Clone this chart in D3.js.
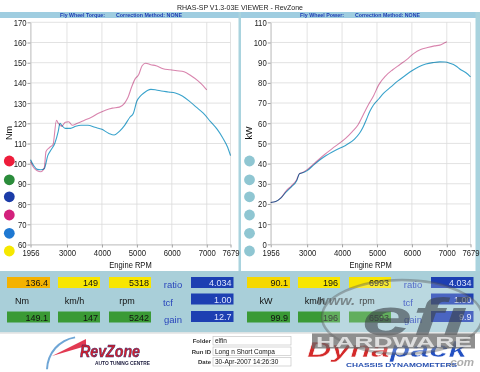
<!DOCTYPE html>
<html>
<head>
<meta charset="utf-8">
<script src="https://cdn.jsdelivr.net/npm/d3@7"></script>
<style>
body { margin: 0; background: #fff; }
svg { display: block; font-family: "Liberation Sans", Arial, sans-serif; }
</style>
</head>
<body>
<svg id="chart" width="480" height="372"></svg>
<script>
// ---- data ----
var rpmTicks = [1956, 3000, 4000, 5000, 6000, 7000, 7679];
var torqueTicks = [60, 70, 80, 90, 100, 110, 120, 130, 140, 150, 160, 170];
var powerTicks = [0, 10, 20, 30, 40, 50, 60, 70, 80, 90, 100, 110];

// run 1 (blue) torque, Nm
var torqueRpmBlue = [1956, 2050, 2150, 2250, 2350, 2450, 2550, 2650, 2750, 2800, 2850, 2950, 3100, 3250, 3400, 3600, 3800, 4000, 4200, 4350, 4500, 4650, 4800, 4900, 5000, 5100, 5200, 5300, 5400, 5550, 5700, 5900, 6100, 6300, 6500, 6700, 6900, 7100, 7300, 7450, 7600, 7679];
var torqueBlue = [102, 99, 97.2, 97, 97.5, 104, 107, 110, 116, 120, 119, 117.5, 117.5, 118.5, 119, 119, 118, 117, 115, 114.2, 116, 119, 123, 125, 131, 133.5, 135, 136.2, 136.8, 136.5, 136, 135.5, 135, 133.5, 131, 128, 125, 121, 117, 113, 108, 104];
// run 2 (pink) torque, Nm
var torqueRpmPink = [1956, 2050, 2150, 2250, 2350, 2400, 2500, 2600, 2700, 2750, 2850, 2950, 3050, 3150, 3300, 3500, 3700, 3900, 4100, 4300, 4500, 4650, 4750, 4850, 4950, 5050, 5150, 5250, 5400, 5550, 5750, 5950, 6150, 6350, 6550, 6750, 6900, 7000];
var torquePink = [101, 98, 96.5, 96, 98, 106, 108, 109.5, 121.5, 120, 118.5, 120.5, 120.8, 119, 120, 121.5, 123, 125, 126.5, 127.5, 128, 130, 133, 138, 142, 144, 148.5, 149.7, 149, 148.5, 147, 146.5, 146, 145.5, 143.5, 141, 138.5, 136.5];

// run 1 (blue) power, kW
var powerRpmBlue = [1956, 2100, 2250, 2400, 2550, 2700, 2780, 2850, 3000, 3200, 3500, 3800, 4100, 4350, 4500, 4600, 4700, 4800, 4900, 5050, 5200, 5400, 5600, 5800, 6000, 6200, 6400, 6600, 6800, 6950, 7100, 7250, 7400, 7550, 7679];
var powerBlue = [20.7, 21.2, 23, 26, 28.5, 31.5, 35, 35.3, 36.5, 39.5, 43.5, 46.5, 49, 52, 55, 58, 62, 66, 69, 72, 75, 78, 81, 83.5, 86, 88, 89.3, 90, 90.4, 90.3, 89.6, 88.5, 86.5, 85, 83];
// run 2 (pink) power, kW
var powerRpmPink = [1956, 2100, 2250, 2400, 2550, 2700, 2780, 2850, 3000, 3200, 3500, 3800, 4100, 4300, 4450, 4600, 4750, 4900, 5050, 5250, 5450, 5650, 5850, 6050, 6250, 6450, 6650, 6800, 6900, 7000];
var powerPink = [20.7, 21.2, 23, 26.5, 29, 32, 35, 35.4, 37, 40, 44.5, 48.5, 52.5, 56, 59, 64, 69, 73.5, 79, 83.5, 86.5, 89, 91.5, 94.5, 96.5, 97.5, 98.3, 98.7, 99.5, 100.4];

var legendColors = ["#ee1d3b", "#2b8c3b", "#1b3ca8", "#d3217c", "#1e78d2", "#f6e800"];

// readout panel
var readoutUnitsTorque = ["Nm", "km/h", "rpm"];
var readoutUnitsPower = ["kW", "km/h", "rpm"];
var torqueTop = ["136.4", "149", "5318"];
var torqueBottom = ["149.1", "147", "5242"];
var powerTop = ["90.1", "196", "6993"];
var powerBottom = ["99.9", "196", "6593"];
var factorLabels = ["ratio", "tcf", "gain"];
var torqueFactors = ["4.034", "1.00", "12.7"];
var powerFactors = ["4.034", "1.00", "9.9"];
var runFields = ["Folder", "Run ID", "Date"];
var runValues = ["elfin", "Long n Short Compa", "30-Apr-2007  14:26:30"];

var svg = d3.select("#chart");
var squeeze = 0.84;

function txt(parent, x, y, s, size, opt) {
  opt = opt || {};
  var t = parent.append("text")
    .attr("transform", "translate(" + x + "," + y + ") scale(" + (opt.sx || 1) + ",1)" + (opt.rot ? " rotate(" + opt.rot + ")" : ""))
    .attr("font-size", size)
    .attr("text-anchor", opt.anchor || "start")
    .attr("fill", opt.fill || "#111")
    .text(s);
  if (opt.weight) t.attr("font-weight", opt.weight);
  if (opt.style) t.attr("font-style", opt.style);
  if (opt.len) t.attr("textLength", opt.len).attr("lengthAdjust", "spacingAndGlyphs");
  return t;
}

// background frame
svg.append("rect").attr("width", 480).attr("height", 372).attr("fill", "#fff");
svg.append("rect").attr("x", 0).attr("y", 12).attr("width", 480).attr("height", 6).attr("fill", "#9fcde0");
svg.append("rect").attr("x", 238.5).attr("y", 12).attr("width", 2.5).attr("height", 260).attr("fill", "#a9d3de");
svg.append("rect").attr("x", 475.5).attr("y", 12).attr("width", 4.5).attr("height", 260).attr("fill", "#a9d3de");

txt(svg, 240, 10, "RHAS-SP V1.3-03E VIEWER - RevZone", 7.2, { anchor: "middle", len: 126, fill: "#222" });
txt(svg, 60, 16.8, "Fly Wheel Torque:", 5.6, { weight: "bold", fill: "#1c3cb4", len: 45 });
txt(svg, 116, 16.8, "Correction Method: NONE", 5.6, { weight: "bold", fill: "#1c3cb4", len: 66 });
txt(svg, 300, 16.8, "Fly Wheel Power:", 5.6, { weight: "bold", fill: "#1c3cb4", len: 44 });
txt(svg, 355, 16.8, "Correction Method: NONE", 5.6, { weight: "bold", fill: "#1c3cb4", len: 65 });

function drawPanel(cfg) {
  var g = svg.append("g");
  var x = d3.scaleLinear().domain([1956, 7679]).range(cfg.xr);
  var y = d3.scaleLinear().domain(cfg.yd).range(cfg.yr);

  // grid
  g.append("g").selectAll("line.h").data(cfg.yt).enter().append("line")
    .attr("x1", x.range()[0]).attr("x2", x.range()[1])
    .attr("y1", function(d) { return y(d); }).attr("y2", function(d) { return y(d); })
    .attr("stroke", "#dadada").attr("stroke-width", 0.8);
  g.append("g").selectAll("line.v").data(rpmTicks).enter().append("line")
    .attr("x1", function(d) { return x(d); }).attr("x2", function(d) { return x(d); })
    .attr("y1", y.range()[1]).attr("y2", y.range()[0])
    .attr("stroke", "#dadada").attr("stroke-width", 0.8);

  // axes
  var ax = g.append("g").attr("transform", "translate(0," + y.range()[0] + ")")
    .call(d3.axisBottom(x).tickValues(rpmTicks).tickSize(3).tickSizeOuter(0).tickPadding(2).tickFormat(d3.format("d")));
  var ay = g.append("g").attr("transform", "translate(" + x.range()[0] + ",0)")
    .call(d3.axisLeft(y).tickValues(cfg.yt).tickSize(3).tickSizeOuter(0).tickPadding(1));
  [ax, ay].forEach(function(a) {
    a.select(".domain").attr("stroke", "#c8c8c8");
    a.selectAll(".tick line").attr("stroke", "#a0a0a0");
    a.selectAll("text").attr("font-size", 9.2).attr("font-family", "Liberation Sans, Arial, sans-serif").attr("fill", "#1a1a1a");
  });
  ax.selectAll("text").attr("transform", "scale(" + squeeze + ",1)");
  ay.selectAll("text").attr("transform", "scale(" + squeeze + ",1)").attr("x", -4 / squeeze);

  txt(g, (x.range()[0] + x.range()[1]) / 2, 268, "Engine RPM", 9, { anchor: "middle", sx: squeeze });
  txt(g, cfg.xr[0] - 18.5, 133, cfg.unit, 9, { anchor: "middle", rot: -90, sx: 1 });

  // legend dots
  g.append("g").selectAll("circle").data(cfg.dots).enter().append("circle")
    .attr("cx", cfg.xr[0] - 21.2)
    .attr("cy", function(d, i) { return [161, 179.8, 196.8, 215, 233.3, 251][i]; })
    .attr("r", 5.4)
    .attr("fill", function(d) { return d; });

  // curves
  var line = d3.line().x(function(d) { return x(d[0]); }).y(function(d) { return y(d[1]); }).curve(d3.curveMonotoneX);
  cfg.series.forEach(function(s) {
    g.append("path")
      .datum(d3.zip(s.rpm, s.val))
      .attr("d", line)
      .attr("fill", "none")
      .attr("stroke", s.color)
      .attr("stroke-width", 1.1)
      .style("mix-blend-mode", "multiply");
  });
}

drawPanel({
  xr: [30.5, 230.5], yd: [60, 170], yr: [244.5, 22.3], yt: torqueTicks, unit: "Nm",
  dots: legendColors,
  series: [
    { rpm: torqueRpmPink, val: torquePink, color: "#d985ae" },
    { rpm: torqueRpmBlue, val: torqueBlue, color: "#3aa3cc" }
  ]
});
drawPanel({
  xr: [270.7, 470.5], yd: [0, 110], yr: [244.3, 22.3], yt: powerTicks, unit: "kW",
  dots: legendColors.map(function() { return "#8fc6d2"; }),
  series: [
    { rpm: powerRpmPink, val: powerPink, color: "#d985ae" },
    { rpm: powerRpmBlue, val: powerBlue, color: "#3aa3cc" }
  ]
});

// ---- readout panel ----
svg.append("rect").attr("x", 0).attr("y", 271).attr("width", 480).attr("height", 61.5).attr("fill", "#a9cfd9");

function readouts(ox, top, bottom, units, factors, firstColor) {
  var g = svg.append("g").attr("transform", "translate(" + ox + ",0)");
  var bx = [7, 58, 109];
  var bw = [43, 42, 42];
  bx.forEach(function(b, i) {
    g.append("rect").attr("x", b).attr("y", 277).attr("width", bw[i]).attr("height", 11)
      .attr("fill", i === 0 ? firstColor : "#f8e600");
    txt(g, b + bw[i] - 2, 286.3, top[i], 9.5, { anchor: "end", sx: 0.95 });
    g.append("rect").attr("x", b).attr("y", 311.5).attr("width", bw[i]).attr("height", 11).attr("fill", "#3a9a35");
    txt(g, b + bw[i] - 2, 320.8, bottom[i], 9.5, { anchor: "end", sx: 0.95 });
    txt(g, [22, 74.5, 127][i] + (ox > 0 && i === 0 ? 4 : 0), 304, units[i], 9.5, { anchor: "middle", sx: 0.95 });
  });
  var fy = [288, 305.5, 322.5];
  factorLabels.forEach(function(f, i) {
    txt(g, i === 1 ? 168 : 173, fy[i], f, 9.5, { anchor: "middle", fill: "#2a46bc" });
    g.append("rect").attr("x", 191).attr("y", [277, 293.5, 311][i]).attr("width", 42.5).attr("height", 11).attr("fill", "#1d3fb2");
    txt(g, 231.5, [286.3, 302.8, 320.3][i], factors[i], 9.5, { anchor: "end", fill: "#dfe6ff", sx: 0.95 });
  });
}
readouts(0, torqueTop, torqueBottom, readoutUnitsTorque, torqueFactors, "#f4b200");
readouts(240, powerTop, powerBottom, readoutUnitsPower, powerFactors, "#f5d800");

// ---- footer ----
svg.append("rect").attr("x", 0).attr("y", 332.5).attr("width", 480).attr("height", 39.5).attr("fill", "#fff");
svg.append("line").attr("x1", 0).attr("x2", 480).attr("y1", 333).attr("y2", 333).attr("stroke", "#c9c9c9").attr("stroke-width", 0.8);

// RevZone logo
var logo = svg.append("g");
logo.append("path")
  .attr("transform", "translate(80,370)")
  .attr("d", d3.arc().innerRadius(32).outerRadius(34).startAngle(-1.55).endAngle(-0.15)())
  .attr("fill", "#6fa6d6");
logo.append("path").attr("d", "M52,356 L86,339 L86,346 Z").attr("fill", "#e23a52");
txt(logo, 80, 356.5, "RevZone", 17, { weight: "bold", style: "italic", fill: "#d81f2a", len: 60 })
  .attr("stroke", "#2a2a70").attr("stroke-width", 0.5);
txt(logo, 95, 364.5, "AUTO TUNING CENTRE", 5.5, { weight: "bold", fill: "#1a1a3c", len: 55 });

// run info
runFields.forEach(function(f, i) {
  var yy = 336.5 + i * 10.5;
  txt(svg, 211, yy + 6.5, f, 6, { anchor: "end", weight: "bold", fill: "#333" });
  svg.append("rect").attr("x", 213).attr("y", yy).attr("width", 78).attr("height", 8.5)
    .attr("fill", "#fff").attr("stroke", "#bdbdbd").attr("stroke-width", 0.6);
  txt(svg, 215, yy + 6.7, runValues[i], 6.5, { fill: "#111" });
});

// Dynapack logo
var dyn = svg.append("text").attr("x", 307).attr("y", 357).attr("font-size", 22)
  .attr("font-weight", "bold").attr("font-style", "italic")
  .attr("textLength", 160).attr("lengthAdjust", "spacingAndGlyphs")
  .attr("stroke", "#fff").attr("stroke-width", 0.5);
dyn.append("tspan").attr("fill", "#d42a2a").text("Dyna");
dyn.append("tspan").attr("fill", "#2350c2").text("pack");
txt(svg, 346, 367, "CHASSIS   DYNAMOMETERS", 4.8, { weight: "bold", fill: "#2850b0", len: 111 });

// efi hardware watermark (semi-transparent, sits over the readouts as in the original)
var wm = svg.append("g").style("pointer-events", "none");
wm.append("ellipse").attr("cx", 402).attr("cy", 317).attr("rx", 80).attr("ry", 37)
  .attr("fill", "#ffffff").attr("fill-opacity", 0.2)
  .attr("stroke", "#555").attr("stroke-opacity", 0.4).attr("stroke-width", 2.5);
wm.append("path").attr("d", "M317,306 l2,-9 h38 l-2,9 z").attr("fill", "none");
txt(wm, 317, 305, "www.", 12, { weight: "bold", style: "italic", fill: "#444", len: 38 }).attr("opacity", 0.55);
txt(wm, 362, 335, "efi", 52, { weight: "bold", style: "italic", fill: "#3a4148", len: 106 }).attr("opacity", 0.6);
wm.append("rect").attr("x", 312).attr("y", 333.5).attr("width", 163).attr("height", 15).attr("fill", "#6a6a6a").attr("opacity", 0.75);
txt(wm, 316, 347, "HARDWARE", 15, { weight: "bold", fill: "#ececec", len: 156 }).attr("opacity", 0.85);
txt(wm, 447, 366, ".com", 10, { style: "italic", weight: "bold", fill: "#777", len: 27 }).attr("opacity", 0.6);
</script>
</body>
</html>
